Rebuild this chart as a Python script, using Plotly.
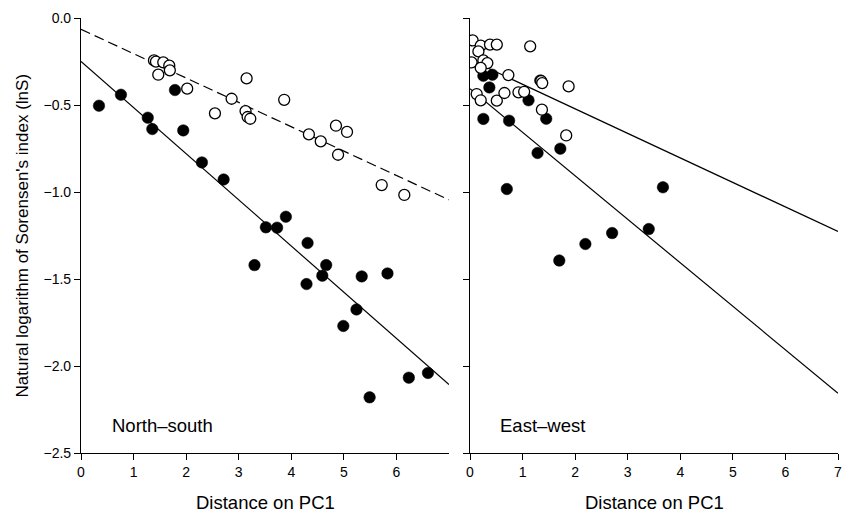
import plotly.graph_objects as go

# ---- North-south panel data ----
ns_open_x = [1.388, 1.426, 1.565, 1.679, 1.47, 1.69, 2.02, 3.15, 2.865, 2.548, 3.13, 3.17, 3.22,
             3.865, 4.335, 4.56, 4.85, 5.06, 4.89, 5.72, 6.15]
ns_open_y = [-0.244, -0.251, -0.255, -0.274, -0.326, -0.301, -0.406, -0.347, -0.464, -0.548, -0.535,
             -0.569, -0.579, -0.470, -0.669, -0.709, -0.619, -0.655, -0.786, -0.960, -1.017]
ns_fill_x = [0.342, 0.76, 1.27, 1.356, 1.787, 1.945, 2.30, 2.713, 3.517, 3.73, 3.897, 4.31,
             3.30, 4.664, 4.59, 4.29, 5.34, 5.83, 5.24, 4.99, 6.236, 6.60, 5.49]
ns_fill_y = [-0.504, -0.441, -0.573, -0.638, -0.414, -0.646, -0.830, -0.928, -1.203, -1.205, -1.142,
             -1.293, -1.420, -1.420, -1.481, -1.529, -1.485, -1.468, -1.675, -1.770, -2.067, -2.040, -2.180]
ns_open_fit = [-0.065, -0.140]   # intercept, slope (dashed)
ns_fill_fit = [-0.249, -0.2654]  # intercept, slope (solid)

# ---- East-west panel data ----
ew_open_x = [0.05, 0.204, 0.38, 0.51, 1.145, 0.16, 0.03, 0.254, 0.33, 0.204, 0.73, 1.355, 1.374,
             1.876, 0.127, 0.204, 0.51, 0.655, 0.922, 1.03, 1.368, 1.83]
ew_open_y = [-0.129, -0.159, -0.153, -0.153, -0.163, -0.192, -0.255, -0.244, -0.259, -0.287, -0.328,
             -0.362, -0.374, -0.393, -0.437, -0.473, -0.475, -0.431, -0.427, -0.424, -0.527, -0.675]
ew_fill_x = [0.254, 0.426, 0.368, 1.113, 0.254, 0.744, 1.45, 1.285, 1.718, 0.70, 3.67, 3.40,
             2.704, 2.195, 1.698, 1.336]
ew_fill_y = [-0.332, -0.326, -0.399, -0.473, -0.580, -0.590, -0.579, -0.776, -0.751, -0.983, -0.973,
             -1.213, -1.236, -1.299, -1.394, -0.359]
ew_open_fit = [-0.240, -0.141]
ew_fill_fit = [-0.407, -0.250]

fit_x = [0, 7]

x_ticks_left = [0, 1, 2, 3, 4, 5, 6]
x_ticks_right = [0, 1, 2, 3, 4, 5, 6, 7]
y_ticks = [0.0, -0.5, -1.0, -1.5, -2.0, -2.5]
y_tick_text = ["0.0", "\u22120.5", "\u22121.0", "\u22121.5", "\u22122.0", "\u22122.5"]

panel_labels = ["North\u2013south", "East\u2013west"]
x_title = "Distance on PC1"
y_title = "Natural logarithm of Sorensen's index (lnS)"

FONT = "Liberation Sans, Arial, sans-serif"

fig = go.Figure()

def line_y(fit):
    return [fit[0] + fit[1] * x for x in fit_x]

# fits
fig.add_trace(go.Scatter(x=fit_x, y=line_y(ns_open_fit), mode="lines",
                         line=dict(color="black", width=1.2, dash="10px,5px"),
                         xaxis="x", yaxis="y", showlegend=False, hoverinfo="skip"))
fig.add_trace(go.Scatter(x=fit_x, y=line_y(ns_fill_fit), mode="lines",
                         line=dict(color="black", width=1.2),
                         xaxis="x", yaxis="y", showlegend=False, hoverinfo="skip"))
fig.add_trace(go.Scatter(x=fit_x, y=line_y(ew_open_fit), mode="lines",
                         line=dict(color="black", width=1.2),
                         xaxis="x2", yaxis="y2", showlegend=False, hoverinfo="skip"))
fig.add_trace(go.Scatter(x=fit_x, y=line_y(ew_fill_fit), mode="lines",
                         line=dict(color="black", width=1.2),
                         xaxis="x2", yaxis="y2", showlegend=False, hoverinfo="skip"))

fill_marker = dict(size=11.5, color="black", line=dict(color="black", width=0.5))
open_marker = dict(size=11, color="white", line=dict(color="black", width=1.3))

fig.add_trace(go.Scatter(x=ns_fill_x, y=ns_fill_y, mode="markers", marker=fill_marker,
                         xaxis="x", yaxis="y", showlegend=False))
fig.add_trace(go.Scatter(x=ns_open_x, y=ns_open_y, mode="markers", marker=open_marker,
                         xaxis="x", yaxis="y", showlegend=False))
fig.add_trace(go.Scatter(x=ew_fill_x, y=ew_fill_y, mode="markers", marker=fill_marker,
                         xaxis="x2", yaxis="y2", showlegend=False))
fig.add_trace(go.Scatter(x=ew_open_x, y=ew_open_y, mode="markers", marker=open_marker,
                         xaxis="x2", yaxis="y2", showlegend=False))

axis_common = dict(showgrid=False, zeroline=False, showline=True, linecolor="black", linewidth=1.2,
                   ticks="outside", ticklen=6, tickwidth=1.2, tickcolor="black", automargin=False,
                   tickfont=dict(family=FONT, size=14, color="black"))

# The page body adds an 8px offset; size the figure so the plot lands where the reference has it.
W, H = 842, 505
ml, mr, mt, mb = 73, 12, 10, 60
pw = W - ml - mr
left_end = (441 - ml) / pw
right_start = (462 - ml) / pw

fig.update_layout(
    template="none",
    width=W, height=H,
    margin=dict(l=ml, r=mr, t=mt, b=mb),
    paper_bgcolor="white", plot_bgcolor="white",
    font=dict(family=FONT, color="black"),
    xaxis=dict(domain=[0, left_end], range=[0, 7], tickvals=x_ticks_left,
               anchor="y", **axis_common),
    yaxis=dict(domain=[0, 1], range=[-2.5, 0.0], tickvals=y_ticks, ticktext=y_tick_text,
               anchor="x", **axis_common),
    xaxis2=dict(domain=[right_start, 1], range=[0, 7], tickvals=x_ticks_right,
                anchor="y2", **axis_common),
    yaxis2=dict(domain=[0, 1], range=[-2.5, 0.0], tickvals=y_ticks, showticklabels=False,
                anchor="x2", **axis_common),
    annotations=[
        dict(x=0.55, y=-2.343, xref="x", yref="y", text=panel_labels[0], showarrow=False,
             xanchor="left", yanchor="middle", font=dict(family=FONT, size=18.5, color="black")),
        dict(x=0.54, y=-2.343, xref="x2", yref="y2", text=panel_labels[1], showarrow=False,
             xanchor="left", yanchor="middle", font=dict(family=FONT, size=18.5, color="black")),
        dict(x=left_end / 2, y=0, xref="paper", yref="paper", yshift=-49, text=x_title,
             showarrow=False, xanchor="center", yanchor="middle",
             font=dict(family=FONT, size=18.5, color="black")),
        dict(x=(right_start + 1) / 2, y=0, xref="paper", yref="paper", yshift=-49, text=x_title,
             showarrow=False, xanchor="center", yanchor="middle",
             font=dict(family=FONT, size=18.5, color="black")),
        dict(x=0, y=0.5, xref="paper", yref="paper", xshift=-59, text=y_title, textangle=-90,
             showarrow=False, xanchor="center", yanchor="middle",
             font=dict(family=FONT, size=17, color="black")),
    ],
)

fig.write_html("out.html")
